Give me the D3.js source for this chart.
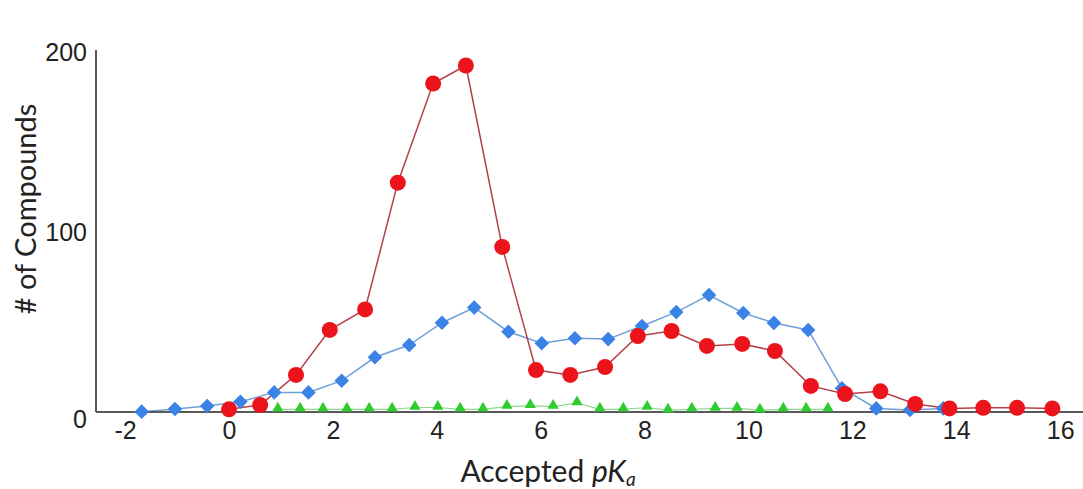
<!DOCTYPE html>
<html>
<head>
<meta charset="utf-8">
<script src="https://cdn.jsdelivr.net/npm/d3@7"></script>
<style>
  body { margin: 0; background: #fff; }
  svg { display: block; font-family: Lato, "Open Sans", sans-serif; }
</style>
</head>
<body>
<svg width="1083" height="489"></svg>
<script>
// red circles
const redX = [0, 0.6, 1.29, 1.94, 2.62, 3.25, 3.93, 4.56, 5.26, 5.91, 6.57, 7.24, 7.87, 8.52, 9.2, 9.88, 10.51, 11.2, 11.86, 12.54, 13.21, 13.87, 14.52, 15.17, 15.85];
const redY = [1.5, 3.9, 20.6, 45.6, 57, 127.4, 182.5, 192.5, 91.7, 23.3, 20.6, 25, 42.2, 45, 36.7, 37.8, 33.9, 14.5, 10, 11.5, 4.5, 2, 2.3, 2.3, 2];

// blue diamonds
const blueX = [-1.68, -1.04, -0.42, 0.22, 0.87, 1.53, 2.17, 2.81, 3.47, 4.1, 4.72, 5.38, 6.02, 6.66, 7.3, 7.95, 8.61, 9.24, 9.9, 10.49, 11.15, 11.8, 12.46, 13.11, 13.75];
const blueY = [0.2, 1.7, 3.3, 5.7, 10.9, 10.9, 17.4, 30.4, 37.2, 49.6, 58, 44.6, 38.2, 41, 40.5, 47.8, 55.5, 65, 55, 49.5, 45.6, 13.2, 2, 1.1, 2];

// green triangles
const greenX = [0.94, 1.37, 1.81, 2.27, 2.7, 3.14, 3.58, 4.02, 4.45, 4.89, 5.35, 5.8, 6.24, 6.7, 7.14, 7.59, 8.05, 8.45, 8.91, 9.36, 9.78, 10.22, 10.67, 11.11, 11.53];
const greenY = [1.5, 1.5, 1.5, 1.5, 1.5, 1.5, 2.5, 2.5, 1.5, 1.5, 3, 3.5, 3, 5, 1.5, 1.5, 2.5, 1, 1.5, 2, 2, 1, 1.5, 1.5, 1.5];

const xTicks = [-2, 0, 2, 4, 6, 8, 10, 12, 14, 16];
const yTicks = [0, 100, 200];

const svg = d3.select("svg");

const x = d3.scaleLinear().domain([-2.56, 16.44]).range([96, 1083]);
const y = d3.scaleLinear().domain([0, 200]).range([412, 52]);

const line = d3.line().x((d) => x(d[0])).y((d) => y(d[1]));

// y axis line
svg.append("line")
  .attr("x1", 96).attr("x2", 96).attr("y1", y(200) - 2).attr("y2", y(0))
  .attr("stroke", "#595959").attr("stroke-width", 2);

const yAxis = svg.append("g")
  .attr("transform", "translate(96,0)")
  .call(d3.axisLeft(y).tickValues(yTicks).tickSize(0).tickPadding(9).tickFormat((d) => String(d)));
yAxis.select(".domain").remove();
yAxis.selectAll("text").attr("font-size", 25).attr("fill", "#222")
  .attr("dy", (d) => (d === 0 ? "0.6em" : "0.32em"));

// series lines
const greenPts = d3.zip(greenX, greenY);
const bluePts = d3.zip(blueX, blueY);
const redPts = d3.zip(redX, redY);

svg.append("path").datum(greenPts).attr("d", line)
  .attr("fill", "none").attr("stroke", "#8bd88b").attr("stroke-width", 1.2);
svg.append("path").datum(bluePts).attr("d", line)
  .attr("fill", "none").attr("stroke", "#6fa0d8").attr("stroke-width", 1.5);
svg.append("path").datum(redPts).attr("d", line)
  .attr("fill", "none").attr("stroke", "#b5404a").attr("stroke-width", 1.5);

// x axis line, over the lines
svg.append("line")
  .attr("x1", 96).attr("x2", 1083).attr("y1", y(0)).attr("y2", y(0))
  .attr("stroke", "#595959").attr("stroke-width", 2);

const xAxis = svg.append("g")
  .attr("transform", `translate(0,${y(0)})`)
  .call(d3.axisBottom(x).tickValues(xTicks).tickSize(0).tickPadding(9).tickFormat((d) => String(d)));
xAxis.select(".domain").remove();
xAxis.selectAll("text").attr("font-size", 25).attr("fill", "#222");

// markers
svg.append("g").selectAll("path").data(greenPts).join("path")
  .attr("d", d3.symbol(d3.symbolTriangle, 55))
  .attr("transform", (d) => `translate(${x(d[0])},${y(d[1]) - 1})`)
  .attr("fill", "#2ecc2e");

svg.append("g").selectAll("path").data(bluePts).join("path")
  .attr("d", d3.symbol(d3.symbolDiamond2, 135))
  .attr("transform", (d) => `translate(${x(d[0])},${y(d[1])})`)
  .attr("fill", "#3b82e6");

svg.append("g").selectAll("circle").data(redPts).join("circle")
  .attr("cx", (d) => x(d[0]))
  .attr("cy", (d) => y(d[1]))
  .attr("r", 8)
  .attr("fill", "#ec141c");

// axis titles
svg.append("text")
  .attr("transform", "translate(36,209) rotate(-90)")
  .attr("text-anchor", "middle")
  .attr("font-size", 29)
  .attr("fill", "#222")
  .text("# of Compounds");

const xt = svg.append("text")
  .attr("x", 548).attr("y", 482)
  .attr("text-anchor", "middle")
  .attr("font-size", 30)
  .attr("fill", "#222");
xt.append("tspan").text("Accepted ");
xt.append("tspan").attr("font-style", "italic").text("pK");
xt.append("tspan").attr("font-style", "italic").attr("font-size", 19).attr("dy", 4).text("a");
</script>
</body>
</html>
